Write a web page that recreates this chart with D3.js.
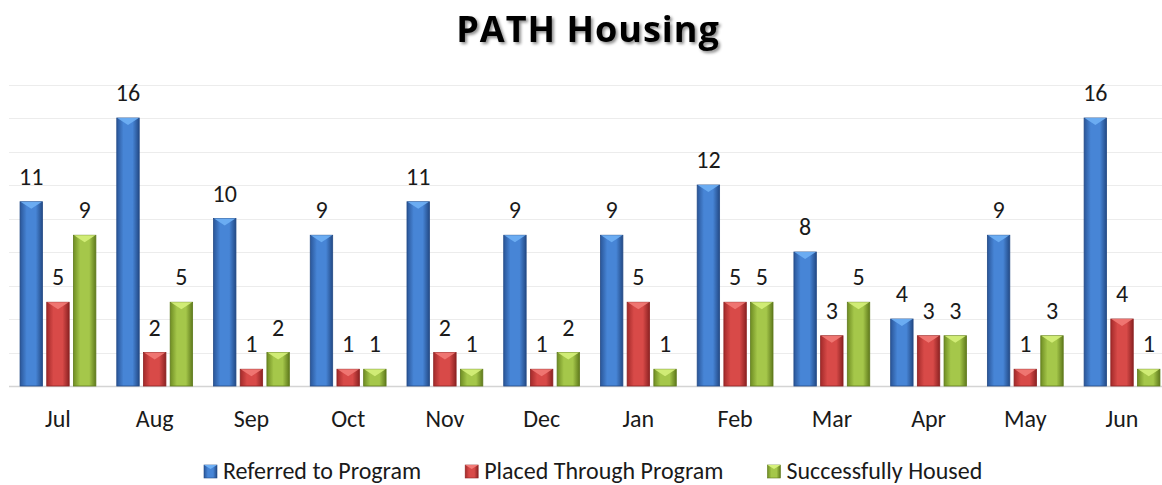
<!DOCTYPE html>
<html>
<head>
<meta charset="utf-8">
<script src="https://cdn.jsdelivr.net/npm/d3@7"></script>
<style>
  body { margin: 0; background: #fff; }
  text { font-family: Calibri, Carlito, Lato, sans-serif; fill: #1a1a1a; }
</style>
</head>
<body>
<div id="chart"></div>
<script>
// monthly counts
const months = ['Jul', 'Aug', 'Sep', 'Oct', 'Nov', 'Dec', 'Jan', 'Feb', 'Mar', 'Apr', 'May', 'Jun'];
const referred = [11, 16, 10, 9, 11, 9, 9, 12, 8, 4, 9, 16];
const placed = [5, 2, 1, 1, 2, 1, 5, 5, 3, 3, 1, 4];
const housed = [9, 5, 2, 1, 1, 2, 1, 5, 5, 3, 3, 1];
const seriesNames = ['Referred to Program', 'Placed Through Program', 'Successfully Housed'];
const gridTicks = [0, 2, 4, 6, 8, 10, 12, 14, 16, 18];

const W = 1162, H = 485;
const colors = [
  { edge: '#2a5699', mid: '#4785d6', dark: '#234a86', top: '#6fb0f5' },
  { edge: '#a32a2a', mid: '#d84a48', dark: '#8c2222', top: '#f27a76' },
  { edge: '#6f8d23', mid: '#a5c74a', dark: '#5f7a1c', top: '#d5f07a' }
];

const svg = d3.select('#chart').append('svg')
  .attr('width', W)
  .attr('height', H);

const defs = svg.append('defs');
colors.forEach(function(c, i) {
  const g = defs.append('linearGradient').attr('id', 'grad' + i)
    .attr('x1', '0%').attr('x2', '100%').attr('y1', '0%').attr('y2', '0%');
  g.append('stop').attr('offset', '0%').attr('stop-color', c.edge);
  g.append('stop').attr('offset', '30%').attr('stop-color', c.mid);
  g.append('stop').attr('offset', '70%').attr('stop-color', c.mid);
  g.append('stop').attr('offset', '100%').attr('stop-color', c.dark);
});
const shadow = defs.append('filter').attr('id', 'tshadow')
  .attr('x', '-10%').attr('y', '-30%').attr('width', '120%').attr('height', '160%');
shadow.append('feDropShadow').attr('dx', 2).attr('dy', 2).attr('stdDeviation', 1.6)
  .attr('flood-color', '#000').attr('flood-opacity', 0.45);

const x0 = d3.scaleBand().domain(months).range([9.6, 1170.4]).paddingInner(0.172).paddingOuter(0.086);
const x1 = d3.scaleBand().domain([0, 1, 2]).range([0, x0.bandwidth()]).paddingInner(0.16).paddingOuter(0.08);
const y = d3.scaleLinear().domain([0, 18]).range([386, 84.5]);

// gridlines
svg.append('g').selectAll('line')
  .data(gridTicks)
  .enter()
  .append('line')
  .attr('x1', 9).attr('x2', W)
  .attr('y1', d => Math.round(y(d)) + 0.5)
  .attr('y2', d => Math.round(y(d)) + 0.5)
  .attr('stroke', d => d === 0 ? '#d4d4d4' : '#ececec')
  .attr('stroke-width', d => d === 0 ? 1.5 : 1.2);

// title
svg.append('text')
  .attr('x', 588).attr('y', 42)
  .attr('text-anchor', 'middle')
  .attr('filter', 'url(#tshadow)')
  .style('font-family', '"Open Sans", sans-serif')
  .style('font-weight', 'bold')
  .style('font-size', '36px')
  .style('letter-spacing', '1px')
  .style('fill', '#000')
  .text('PATH Housing');

const rows = [];
months.forEach(function(m, i) {
  [referred[i], placed[i], housed[i]].forEach(function(v, s) {
    rows.push({ month: m, s: s, v: v });
  });
});

const bars = svg.append('g').selectAll('g')
  .data(rows)
  .enter()
  .append('g')
  .attr('transform', d => 'translate(' + (x0(d.month) + x1(d.s)) + ',0)');

const bw = x1.bandwidth();

bars.append('rect')
  .attr('x', 0)
  .attr('y', d => y(d.v))
  .attr('width', bw)
  .attr('height', d => y(0) - y(d.v))
  .attr('fill', d => 'url(#grad' + d.s + ')')
  .attr('stroke', d => colors[d.s].dark)
  .attr('stroke-width', 0.8);

// beveled top
bars.append('path')
  .attr('d', function(d) {
    const t = y(d.v);
    return 'M0.5,' + t + 'L' + (bw - 0.5) + ',' + t + 'L' + (bw / 2) + ',' + (t + 7) + 'Z';
  })
  .attr('fill', d => colors[d.s].top)
  .attr('opacity', 0.9);

// data labels
bars.append('text')
  .attr('x', bw / 2)
  .attr('y', d => y(d.v) - 17)
  .attr('text-anchor', 'middle')
  .style('font-size', '24px')
  .text(d => d.v);

// month labels
svg.append('g').selectAll('text')
  .data(months)
  .enter()
  .append('text')
  .attr('x', d => x0(d) + x0.bandwidth() / 2)
  .attr('y', 427)
  .attr('text-anchor', 'middle')
  .style('font-size', '24px')
  .text(d => d);

// legend
const legend = svg.append('g');
let lx = 204;
seriesNames.forEach(function(name, i) {
  legend.append('rect')
    .attr('x', lx).attr('y', 465)
    .attr('width', 13).attr('height', 13)
    .attr('fill', 'url(#grad' + i + ')')
    .attr('stroke', colors[i].dark).attr('stroke-width', 0.6);
  legend.append('path')
    .attr('d', 'M' + lx + ',465L' + (lx + 13) + ',465L' + (lx + 6.5) + ',469Z')
    .attr('fill', colors[i].top);
  const t = legend.append('text')
    .attr('x', lx + 19).attr('y', 479)
    .style('font-size', '24px')
    .text(name);
  lx = lx + 19 + t.node().getComputedTextLength() + 44;
});
</script>
</body>
</html>
